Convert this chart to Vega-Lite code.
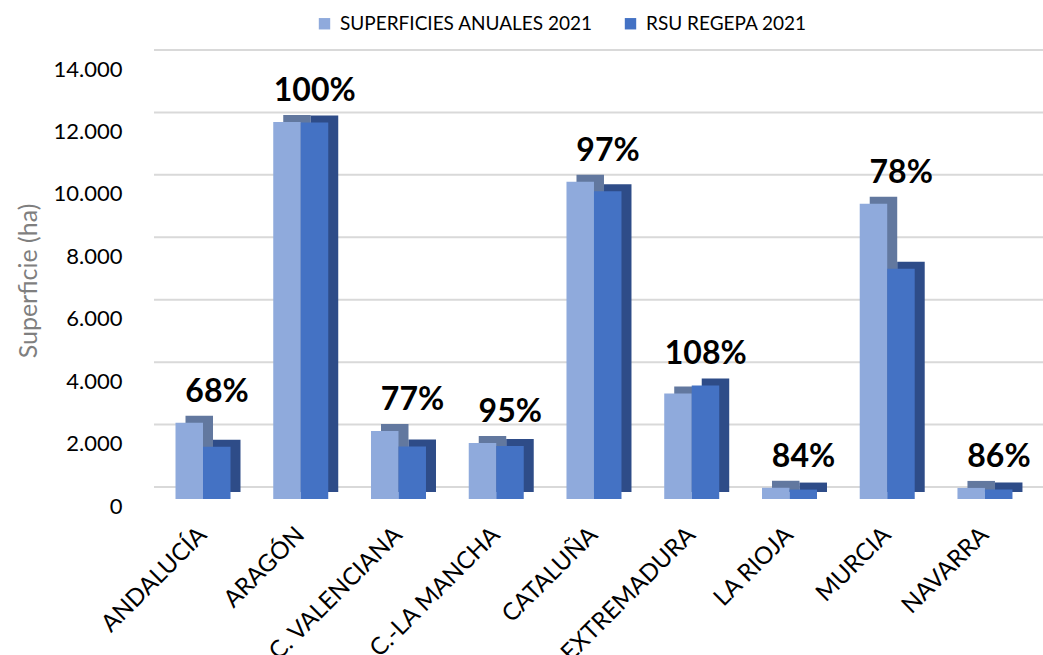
{
  "$schema": "https://vega.github.io/schema/vega-lite/v6.json",
  "width": 880,
  "height": 437,
  "autosize": {"type": "none"},
  "padding": {"left": 154, "top": 62, "right": 9, "bottom": 156},
  "config": {"view": {"stroke": null}, "font": "Lato"},
  "datasets": {
    "regiones": [
      {"region": "ANDALUCÍA", "SUPERFICIES ANUALES 2021": 2440, "RSU REGEPA 2021": 1670, "pct": "68%"},
      {"region": "ARAGÓN", "SUPERFICIES ANUALES 2021": 12080, "RSU REGEPA 2021": 12060, "pct": "100%"},
      {"region": "C. VALENCIANA", "SUPERFICIES ANUALES 2021": 2180, "RSU REGEPA 2021": 1680, "pct": "77%"},
      {"region": "C.-LA MANCHA", "SUPERFICIES ANUALES 2021": 1795, "RSU REGEPA 2021": 1700, "pct": "95%"},
      {"region": "CATALUÑA", "SUPERFICIES ANUALES 2021": 10160, "RSU REGEPA 2021": 9860, "pct": "97%"},
      {"region": "EXTREMADURA", "SUPERFICIES ANUALES 2021": 3380, "RSU REGEPA 2021": 3640, "pct": "108%"},
      {"region": "LA RIOJA", "SUPERFICIES ANUALES 2021": 360, "RSU REGEPA 2021": 302, "pct": "84%"},
      {"region": "MURCIA", "SUPERFICIES ANUALES 2021": 9460, "RSU REGEPA 2021": 7380, "pct": "78%"},
      {"region": "NAVARRA", "SUPERFICIES ANUALES 2021": 355, "RSU REGEPA 2021": 305, "pct": "86%"}
    ],
    "grid": [
      {"v": 0}, {"v": 2000}, {"v": 4000}, {"v": 6000}, {"v": 8000}, {"v": 10000}, {"v": 12000}, {"v": 14000}
    ]
  },
  "data": {"name": "regiones"},
  "resolve": {"scale": {"xOffset": "independent"}},
  "layer": [
    {
      "data": {"name": "grid"},
      "mark": {"type": "rule", "color": "#d9d9d9", "strokeWidth": 2, "yOffset": -12, "xOffset": 18, "x2Offset": 11},
      "encoding": {
        "y": {"field": "v", "type": "quantitative", "scale": {"domain": [0, 14000]}}
      }
    },
    {
      "transform": [{"fold": ["SUPERFICIES ANUALES 2021", "RSU REGEPA 2021"], "as": ["serie", "valor"]}],
      "mark": {"type": "bar", "yOffset": -7, "y2Offset": -7},
      "encoding": {
        "x": {"field": "region", "type": "nominal", "sort": null, "scale": {"paddingInner": 0.437, "paddingOuter": 0.22}},
        "xOffset": {"field": "serie", "type": "nominal", "sort": ["SUPERFICIES ANUALES 2021", "RSU REGEPA 2021"], "scale": {"range": [10, 65]}},
        "y": {"field": "valor", "type": "quantitative"},
        "fill": {
          "condition": {"test": "datum.serie === 'RSU REGEPA 2021'", "value": "#2E4C88"},
          "value": "#62789F"
        }
      }
    },
    {
      "transform": [{"fold": ["SUPERFICIES ANUALES 2021", "RSU REGEPA 2021"], "as": ["serie", "valor"]}],
      "mark": {"type": "bar"},
      "encoding": {
        "x": {
          "field": "region", "type": "nominal", "sort": null,
          "axis": {
            "title": null, "labelAngle": -45, "labelFontSize": 24, "labelColor": "#000000",
            "ticks": false, "domain": false, "labelPadding": 32
          }
        },
        "xOffset": {"field": "serie", "type": "nominal", "sort": ["SUPERFICIES ANUALES 2021", "RSU REGEPA 2021"], "scale": {"range": [0, 55]}},
        "y": {
          "field": "valor", "type": "quantitative",
          "axis": {
            "title": "Superficie (ha)", "titleColor": "#7f7f7f", "titleFontSize": 25, "titleFontWeight": "normal", "titlePadding": 12,
            "values": [0, 2000, 4000, 6000, 8000, 10000, 12000, 14000],
            "labelExpr": "replace(format(datum.value, ','), /,/g, '.')",
            "labelFontSize": 22, "labelColor": "#000000", "labelPadding": 32, "labelOffset": 7,
            "ticks": false, "domain": false, "grid": false
          }
        },
        "color": {
          "field": "serie", "type": "nominal",
          "scale": {"domain": ["SUPERFICIES ANUALES 2021", "RSU REGEPA 2021"], "range": ["#8FAADC", "#4472C4"]},
          "legend": {
            "title": null, "orient": "none", "direction": "horizontal", "legendX": 161, "legendY": -48,
            "symbolType": "square", "symbolSize": 130, "symbolStrokeWidth": 0, "labelFontSize": 19, "labelLimit": 0,
            "labelColor": "#000000", "labelOffset": 6, "columnPadding": 28
          }
        }
      }
    },
    {
      "transform": [{"calculate": "max(datum['SUPERFICIES ANUALES 2021'], datum['RSU REGEPA 2021'])", "as": "tope"}],
      "mark": {"type": "text", "fontSize": 32, "fontWeight": "bold", "color": "#000000", "dx": 14, "dy": -31, "baseline": "middle"},
      "encoding": {
        "x": {"field": "region", "type": "nominal", "sort": null},
        "y": {"field": "tope", "type": "quantitative"},
        "text": {"field": "pct"}
      }
    }
  ]
}
